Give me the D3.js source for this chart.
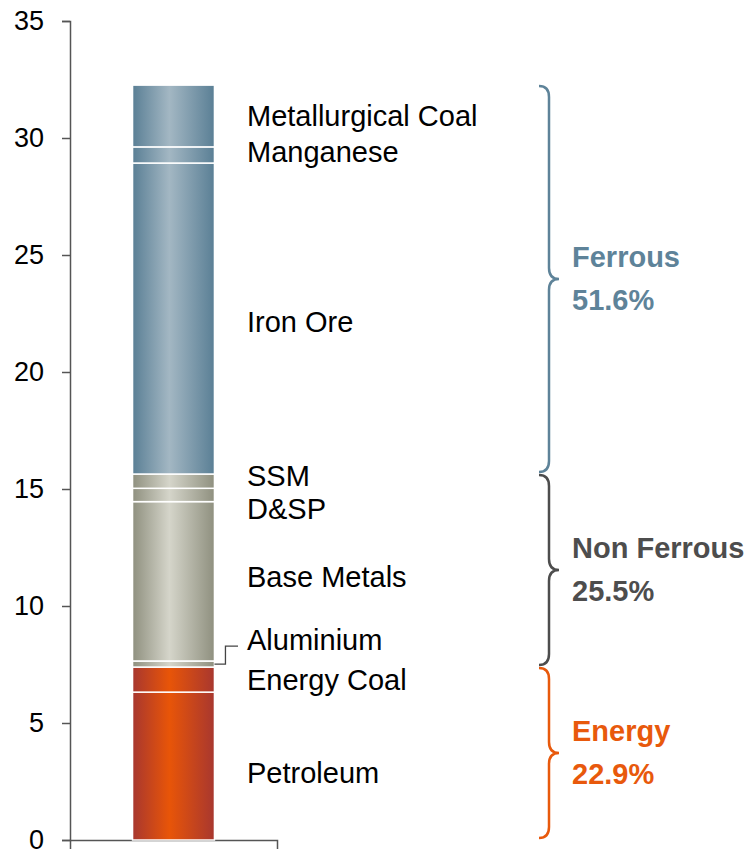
<!DOCTYPE html>
<html>
<head>
<meta charset="utf-8">
<script src="https://cdn.jsdelivr.net/npm/d3@7"></script>
<style>
  body { margin: 0; background: #fff; }
  text { font-family: "Liberation Sans", Arial, sans-serif; }
</style>
</head>
<body>
<div id="chart"></div>
<script>
// segment names, bottom to top
const segments = ["Petroleum", "Energy Coal", "Aluminium", "Base Metals", "D&SP", "SSM", "Iron Ore", "Manganese", "Metallurgical Coal"];
const segmentValues = [6.32, 1.07, 0.26, 6.81, 0.57, 0.61, 13.29, 0.69, 2.64];
const segmentGroups = ["Energy", "Energy", "Non Ferrous", "Non Ferrous", "Non Ferrous", "Non Ferrous", "Ferrous", "Ferrous", "Ferrous"];
const groups = ["Energy", "Non Ferrous", "Ferrous"];
const groupShares = ["22.9%", "25.5%", "51.6%"];
const yTicks = [0, 5, 10, 15, 20, 25, 30, 35];

const width = 747, height = 849;

// colours per group: edge, highlight
const groupColor = { "Energy": "#e8590c", "Non Ferrous": "#4d4d4d", "Ferrous": "#5e8399" };
const barShade = {
    "Energy": ["#a8372f", "#e85508"],
    "Non Ferrous": ["#8f907f", "#d5d5ca"],
    "Ferrous": ["#5a7f95", "#a3b7c3"]
};

// small label nudges (px) so labels don't collide
const labelShift = { "Petroleum": 7, "Aluminium": -24, "Base Metals": -5, "D&SP": 14, "SSM": -6, "Iron Ore": 3, "Manganese": -3 };

const svg = d3.select("#chart")
    .append("svg")
    .attr("width", width)
    .attr("height", height);

const y = d3.scaleLinear()
    .domain([0, 35])
    .range([840, 21]);

const x = d3.scaleBand()
    .domain(["total"])
    .range([70, 277])
    .padding(0.433);

// stack the segments
let acc = 0;
const stacked = segments.map((name, i) => {
    const d = { name: name, group: segmentGroups[i], y0: acc, y1: acc + segmentValues[i] };
    acc += segmentValues[i];
    return d;
});

// gradients
const defs = svg.append("defs");
groups.forEach((g, i) => {
    const grad = defs.append("linearGradient")
        .attr("id", "grad" + i)
        .attr("x1", "0%").attr("x2", "100%")
        .attr("y1", "0%").attr("y2", "0%");
    grad.append("stop").attr("offset", "0%").attr("stop-color", barShade[g][0]);
    grad.append("stop").attr("offset", "45%").attr("stop-color", barShade[g][1]);
    grad.append("stop").attr("offset", "100%").attr("stop-color", barShade[g][0]);
});

// axes
const yAxis = svg.append("g")
    .attr("transform", `translate(${x.range()[0]},0)`)
    .call(d3.axisLeft(y).tickValues(yTicks).tickSize(8).tickPadding(18));
yAxis.selectAll("text").style("font-size", "27px").style("fill", "#000");
yAxis.selectAll("line, path").style("stroke", "#555").style("stroke-width", 1.5);

const xAxis = svg.append("g")
    .attr("transform", `translate(0,${y(0)})`)
    .call(d3.axisBottom(x).tickSizeInner(0).tickSizeOuter(10).tickFormat(""));
xAxis.selectAll("path").style("stroke", "#555").style("stroke-width", 1.5);
xAxis.selectAll("line").remove();

// bar segments
svg.append("g")
    .selectAll("rect")
    .data(stacked)
    .join("rect")
    .attr("x", x("total"))
    .attr("width", x.bandwidth())
    .attr("y", d => y(d.y1))
    .attr("height", d => y(d.y0) - y(d.y1))
    .style("fill", d => `url(#grad${groups.indexOf(d.group)})`)
    .style("stroke", "#fff")
    .style("stroke-width", 1.5);

// segment labels
const labelX = 247;
svg.append("g")
    .selectAll("text")
    .data(stacked)
    .join("text")
    .attr("x", labelX)
    .attr("y", d => y((d.y0 + d.y1) / 2) + (labelShift[d.name] || 0))
    .attr("dy", "0.36em")
    .style("font-size", "29px")
    .style("fill", "#000")
    .text(d => d.name);

// leader line for Aluminium
const alu = stacked.find(d => d.name === "Aluminium");
const aluY = y((alu.y0 + alu.y1) / 2);
const barRight = x("total") + x.bandwidth();
svg.append("path")
    .attr("d", `M${barRight},${aluY}H${barRight + 11}V${aluY + labelShift["Aluminium"] + 6}H${labelX - 9}`)
    .style("fill", "none")
    .style("stroke", "#444")
    .style("stroke-width", 1.3);

// braces per group
const braceX0 = 539, braceX1 = 549, braceTip = 559;
function bracePath(top, bot) {
    const mid = (top + bot) / 2, r = 11;
    return `M${braceX0},${top}` +
        `Q${braceX1},${top} ${braceX1},${top + r}` +
        `V${mid - r}` +
        `Q${braceX1},${mid} ${braceTip},${mid}` +
        `Q${braceX1},${mid} ${braceX1},${mid + r}` +
        `V${bot - r}` +
        `Q${braceX1},${bot} ${braceX0},${bot}`;
}

const groupExtent = groups.map((g, i) => {
    const segs = stacked.filter(d => d.group === g);
    return { group: g, share: groupShares[i], y0: d3.min(segs, d => d.y0), y1: d3.max(segs, d => d.y1) };
});

const braceG = svg.append("g");
braceG.selectAll("path")
    .data(groupExtent)
    .join("path")
    .attr("d", d => bracePath(y(d.y1) + 1, y(d.y0) - 2))
    .style("fill", "none")
    .style("stroke", d => groupColor[d.group])
    .style("stroke-width", 2.5);

const groupLabels = braceG.selectAll("g.lbl")
    .data(groupExtent)
    .join("g")
    .attr("class", "lbl")
    .attr("transform", d => `translate(572,${(y(d.y0) + y(d.y1)) / 2})`);

groupLabels.append("text")
    .attr("y", -13)
    .style("font-size", "29px")
    .style("font-weight", "bold")
    .style("fill", d => groupColor[d.group])
    .text(d => d.group);

groupLabels.append("text")
    .attr("y", 30)
    .style("font-size", "29px")
    .style("font-weight", "bold")
    .style("fill", d => groupColor[d.group])
    .text(d => d.share);
</script>
</body>
</html>
